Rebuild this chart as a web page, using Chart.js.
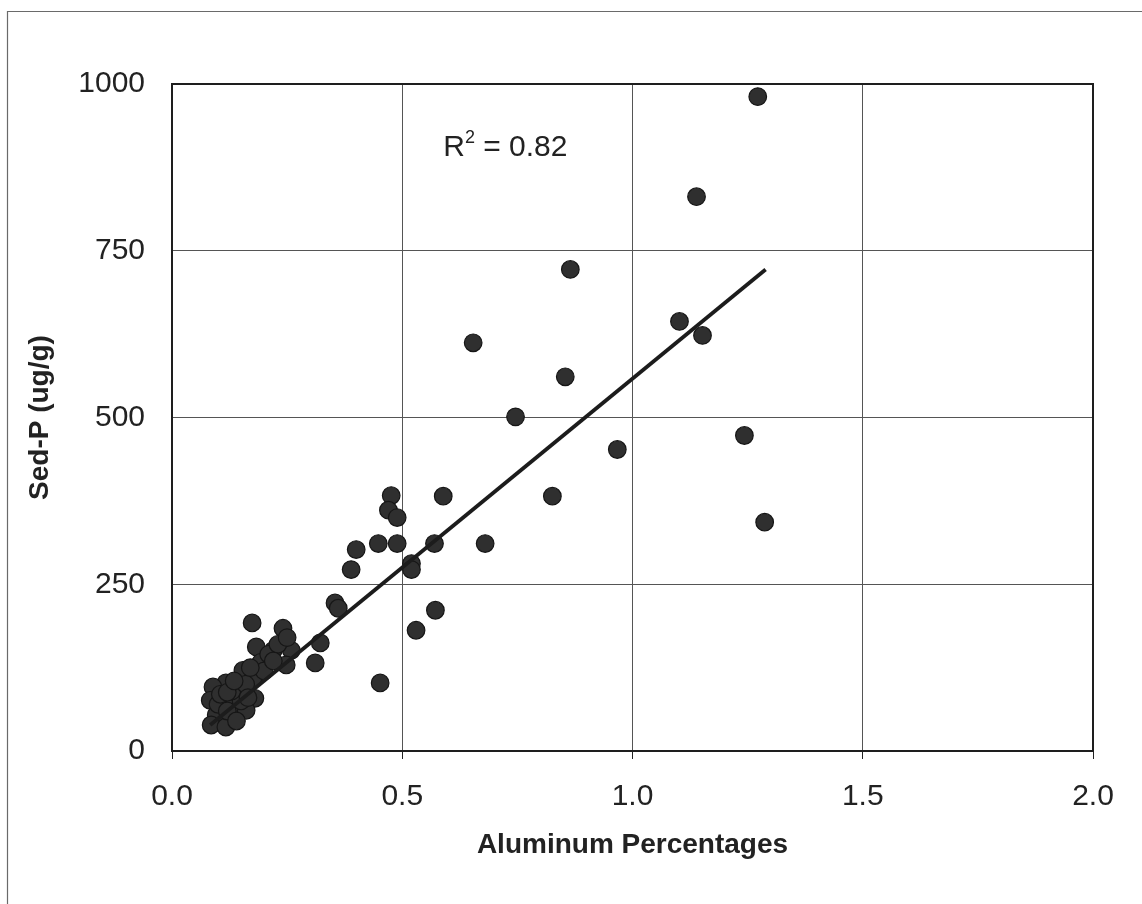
<!DOCTYPE html>
<html>
<head>
<meta charset="utf-8">
<script src="https://cdn.jsdelivr.net/npm/chart.js@4"></script>
<style>
  html, body { margin: 0; padding: 0; background: #ffffff; }
  #wrap { position: relative; width: 1142px; height: 904px; }
</style>
</head>
<body>
<div id="wrap"><canvas id="c" width="1142" height="904"></canvas></div>
<script>
// Aluminum percentages (x) and Sed-P in ug/g (y)
const aluminumPct = [
  1.272, 1.139, 0.865, 1.102, 1.152, 0.654, 0.854, 0.746, 0.967, 1.243,
  1.287, 0.826, 0.680, 0.589, 0.570, 0.572, 0.530, 0.452, 0.476, 0.470,
  0.489, 0.448, 0.489, 0.400, 0.389, 0.520, 0.520, 0.354, 0.361, 0.322,
  0.311, 0.174, 0.241, 0.259, 0.183, 0.220, 0.248, 0.193, 0.154, 0.176,
  0.117, 0.089, 0.148, 0.180, 0.083, 0.128, 0.096, 0.085, 0.139, 0.117,
  0.161, 0.100, 0.120, 0.140, 0.150, 0.130, 0.160, 0.105, 0.200, 0.210,
  0.230, 0.250, 0.220, 0.170, 0.120, 0.135, 0.165
];
const sedP = [
  981, 831, 722, 644, 623, 612, 561, 501, 452, 473,
  343, 382, 311, 382, 311, 211, 181, 102, 383, 361,
  350, 311, 311, 302, 272, 281, 272, 222, 214, 162,
  132, 192, 184, 151, 156, 151, 129, 133, 121, 109,
  102, 96, 91, 79, 76, 76, 54, 39, 57, 36,
  61, 70, 60, 45, 75, 90, 100, 85, 120, 145,
  160, 170, 135, 125, 88, 105, 80
];
// Linear trend line end points
const trendX = [0.083, 1.289];
const trendY = [39, 722];
// Axis ticks
const xTicks = [0.0, 0.5, 1.0, 1.5, 2.0];
const yTicks = [0, 250, 500, 750, 1000];
const rSquaredLabel = { x: 0.589, y: 892, main: 'R', sup: '2', rest: ' = 0.82' };

const points = aluminumPct.map((x, i) => ({ x: x, y: sedP[i] }));
const trend = trendX.map((x, i) => ({ x: x, y: trendY[i] }));

const frameAndBorder = {
  id: 'frameAndBorder',
  beforeDraw(chart) {
    const ctx = chart.ctx;
    ctx.save();
    ctx.fillStyle = '#ffffff';
    ctx.fillRect(0, 0, chart.width, chart.height);
    ctx.strokeStyle = '#6a6a6a';
    ctx.lineWidth = 1.2;
    ctx.beginPath();
    ctx.moveTo(7.5, 904);
    ctx.lineTo(7.5, 11.5);
    ctx.lineTo(1142, 11.5);
    ctx.stroke();
    ctx.restore();
  },
  afterDraw(chart) {
    const ctx = chart.ctx;
    const a = chart.chartArea;
    ctx.save();
    ctx.strokeStyle = '#1e1e1e';
    ctx.lineWidth = 2;
    ctx.strokeRect(a.left, a.top, a.right - a.left, a.bottom - a.top);
    // R^2 label
    const xs = chart.scales.x, ys = chart.scales.y;
    let px = xs.getPixelForValue(rSquaredLabel.x);
    const py = ys.getPixelForValue(rSquaredLabel.y);
    ctx.fillStyle = '#222222';
    ctx.textBaseline = 'alphabetic';
    ctx.textAlign = 'left';
    ctx.font = '30px "Liberation Sans", Arial, sans-serif';
    ctx.fillText(rSquaredLabel.main, px, py);
    px += ctx.measureText(rSquaredLabel.main).width;
    ctx.font = '18px "Liberation Sans", Arial, sans-serif';
    ctx.fillText(rSquaredLabel.sup, px, py - 13);
    px += ctx.measureText(rSquaredLabel.sup).width;
    ctx.font = '30px "Liberation Sans", Arial, sans-serif';
    ctx.fillText(rSquaredLabel.rest, px, py);
    ctx.restore();
  }
};

new Chart(document.getElementById('c'), {
  type: 'scatter',
  data: {
    datasets: [
      {
        label: 'Trend',
        type: 'line',
        data: trend,
        borderColor: '#1c1c1c',
        borderWidth: 3.8,
        pointRadius: 0,
        fill: false,
        order: 0
      },
      {
        label: 'Sed-P',
        data: points,
        backgroundColor: '#2f2f2f',
        borderColor: '#161616',
        borderWidth: 1.2,
        pointRadius: 8.8,
        pointHoverRadius: 8.8,
        order: 1
      }
    ]
  },
  plugins: [frameAndBorder],
  options: {
    responsive: false,
    animation: false,
    events: [],
    layout: { padding: { left: 8, top: 84, right: 49, bottom: 0 } },
    plugins: { legend: { display: false }, tooltip: { enabled: false } },
    scales: {
      x: {
        type: 'linear',
        min: 0, max: 2,
        afterBuildTicks(scale) { scale.ticks = xTicks.map(v => ({ value: v })); },
        afterFit(scale) { scale.height = 153; },
        grid: { color: '#555555', lineWidth: 1, drawTicks: true, tickLength: 8, tickColor: '#222222' },
        border: { display: false },
        ticks: {
          color: '#222222',
          padding: 20,
          font: { family: '"Liberation Sans", Arial, sans-serif', size: 30 },
          callback: v => Number(v).toFixed(1),
          maxRotation: 0
        },
        title: {
          display: true,
          text: 'Aluminum Percentages',
          color: '#222222',
          font: { family: '"Liberation Sans", Arial, sans-serif', size: 28, weight: 'bold' },
          padding: { top: 0, bottom: 42 }
        }
      },
      y: {
        type: 'linear',
        min: 0, max: 1000,
        afterBuildTicks(scale) { scale.ticks = yTicks.map(v => ({ value: v })); },
        afterFit(scale) { scale.width = 164; },
        grid: { color: '#555555', lineWidth: 1, drawTicks: false },
        border: { display: false },
        ticks: {
          color: '#222222',
          padding: 27,
          font: { family: '"Liberation Sans", Arial, sans-serif', size: 30 },
          callback: v => String(v)
        },
        title: {
          display: true,
          text: 'Sed-P (ug/g)',
          color: '#222222',
          font: { family: '"Liberation Sans", Arial, sans-serif', size: 28, weight: 'bold' },
          padding: { top: 15, bottom: 0 }
        }
      }
    }
  }
});
</script>
</body>
</html>
